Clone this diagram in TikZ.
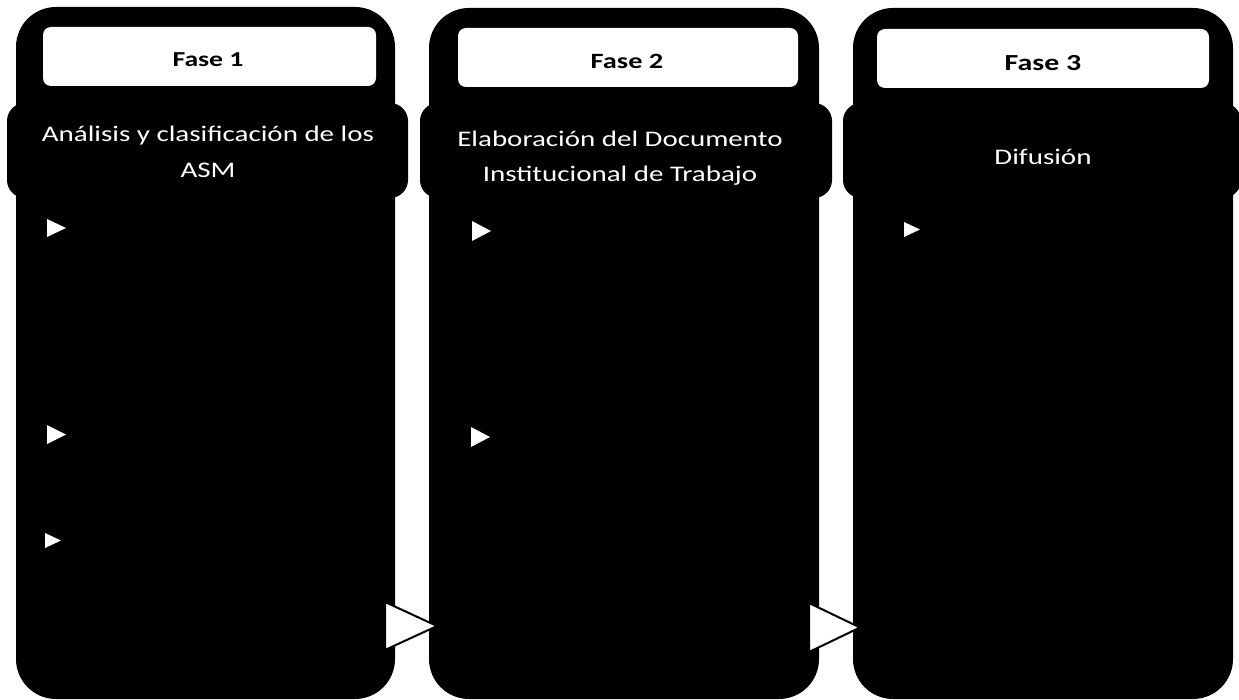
\documentclass[tikz,border=0pt]{standalone}
\usepackage{fontspec}
\setmainfont{Carlito}
\newfontfamily\widefont[FakeStretch=1.3]{Carlito}
\begin{document}
\begin{tikzpicture}[x=1pt,y=-1pt,
  panel/.style={fill=black, rounded corners=40pt, inner sep=0pt, outer sep=0pt, anchor=north west},
  band/.style={fill=black, rounded corners=18pt, inner sep=0pt, outer sep=0pt, anchor=north west},
  head/.style={fill=white, rounded corners=8pt, inner sep=0pt, outer sep=0pt, anchor=north west},
  title/.style={text=white, align=center, anchor=base, inner sep=0pt},
  phase/.style={anchor=base, inner sep=0pt},
  bullet/.style={fill=white},
  step arrow/.style={fill=white, draw=black, line width=2pt, line join=miter}]
\useasboundingbox (0,0) rectangle (1239,700);
\fill[white] (0,0) rectangle (1239,700);
% panels
\node[panel, minimum width=379pt, minimum height=692pt] (p1) at (16,7) {};
\node[panel, minimum width=390pt, minimum height=691pt] (p2) at (429,8) {};
\node[panel, minimum width=380pt, minimum height=691pt] (p3) at (853,8) {};
% title bands
\node[band, minimum width=401pt, minimum height=95pt] (b1) at (7,103) {};
\node[band, minimum width=412pt, minimum height=95pt] (b2) at (420,103) {};
\node[band, minimum width=398pt, minimum height=95pt] (b3) at (843,103) {};
\node[title, font=\widefont\fontsize{22.3}{36}\selectfont] (t1) at (208,178) {Análisis y clasificación de los\\ASM};
\node[title, font=\widefont\fontsize{22.3}{35}\selectfont] (t2) at (620,182) {Elaboración del Documento\\Institucional de Trabajo};
\node[title, font=\widefont\fontsize{22.3}{35}\selectfont] (t3) at (1043,165) {Difusión};
% phase headers
\node[head, minimum width=333pt, minimum height=59pt] (h1) at (43,27) {};
\node[head, minimum width=340pt, minimum height=59pt] (h2) at (458,28) {};
\node[head, minimum width=332pt, minimum height=59pt] (h3) at (877,29) {};
\node[phase, font=\widefont\bfseries\fontsize{21.3}{24}\selectfont] (f1) at (208,67) {Fase 1};
\node[phase, font=\widefont\bfseries\fontsize{21.8}{24}\selectfont] (f2) at (627,69) {Fase 2};
\node[phase, font=\widefont\bfseries\fontsize{23}{24}\selectfont] (f3) at (1043,71) {Fase 3};
% bullets
\fill[bullet] (47,219) -- (66,228) -- (47,237) -- cycle;
\fill[bullet] (47,425) -- (66,434.5) -- (47,444) -- cycle;
\fill[bullet] (45,533) -- (61,540.5) -- (45,548) -- cycle;
\fill[bullet] (472,221) -- (491,231) -- (472,241) -- cycle;
\fill[bullet] (471,427) -- (490,437) -- (471,447) -- cycle;
\fill[bullet] (904,222) -- (920,229.5) -- (904,237) -- cycle;
% arrows between phases
\coordinate (a1) at (385,602);
\coordinate (a2) at (809,603);
\filldraw[step arrow] (a1) -- ++(52,24) -- ++(-52,24) -- cycle;
\filldraw[step arrow] (a2) -- ++(51,24.5) -- ++(-51,24.5) -- cycle;
\end{tikzpicture}
\end{document}
